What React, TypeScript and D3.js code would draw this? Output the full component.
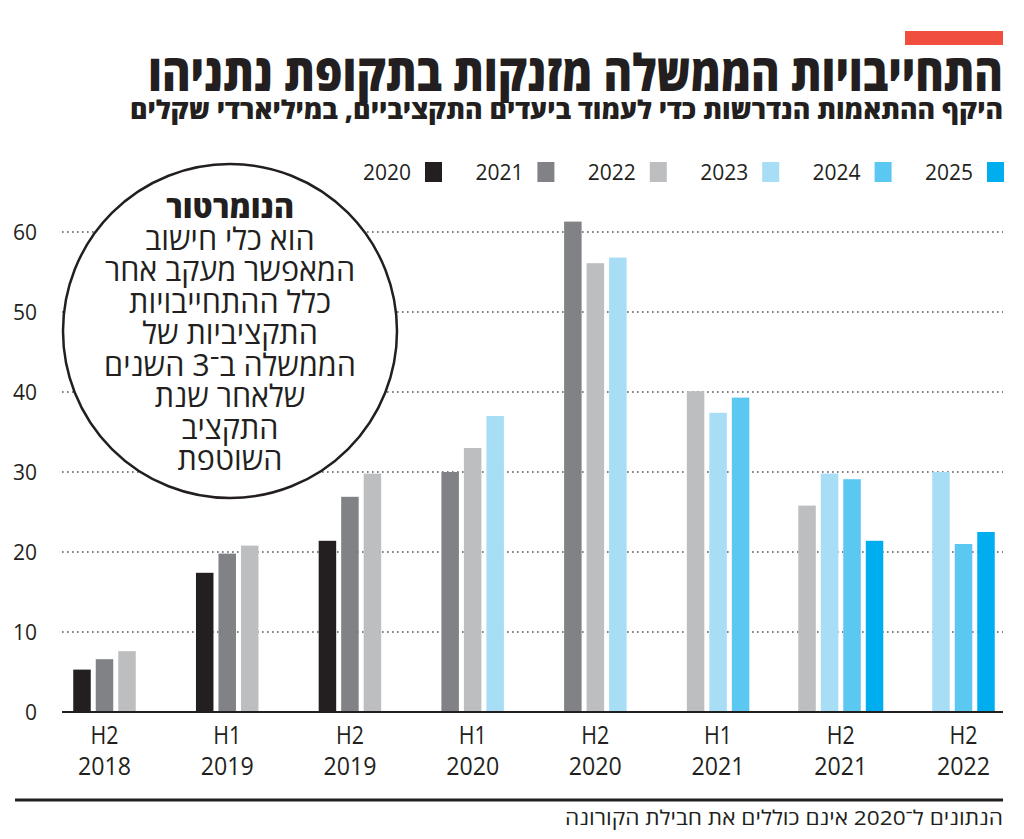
import React from "react";
import * as d3 from "d3";

const TITLE = "התחייבויות הממשלה מזנקות בתקופת נתניהו";
const SUBTITLE = "היקף ההתאמות הנדרשות כדי לעמוד ביעדים התקציביים, במיליארדי שקלים";
const FOOTNOTE = "הנתונים ל־2020 אינם כוללים את חבילת הקורונה";
const NOTE_LINES = [
  "הנומרטור",
  "הוא כלי חישוב",
  "המאפשר מעקב אחר",
  "כלל ההתחייבויות",
  "התקציביות של",
  "הממשלה ב־3 השנים",
  "שלאחר שנת",
  "התקציב",
  "השוטפת",
];

const halves = ["H2", "H1", "H2", "H1", "H2", "H1", "H2", "H2"];
const periodYears = ["2018", "2019", "2019", "2020", "2020", "2021", "2021", "2022"];
const periods = halves.map((h, i) => `${h} ${periodYears[i]}`);

const seriesNames = ["2020", "2021", "2022", "2023", "2024", "2025"];
const seriesColors = ["#231f20", "#808285", "#bcbec0", "#a8ddf6", "#5bc8f2", "#00aeef"];

const s2020: (number | null)[] = [5.3, 17.4, 21.4, null, null, null, null, null];
const s2021: (number | null)[] = [6.6, 19.8, 26.9, 30.0, 61.3, null, null, null];
const s2022: (number | null)[] = [7.6, 20.8, 29.8, 33.0, 56.1, 40.1, 25.8, null];
const s2023: (number | null)[] = [null, null, null, 37.0, 56.8, 37.4, 29.8, 30.0];
const s2024: (number | null)[] = [null, null, null, null, null, 39.3, 29.1, 21.0];
const s2025: (number | null)[] = [null, null, null, null, null, null, 21.4, 22.5];
const seriesValues = [s2020, s2021, s2022, s2023, s2024, s2025];

const yTicks = [0, 10, 20, 30, 40, 50, 60];

export default function App() {
  const W = 1024;
  const H = 839;
  const x = d3.scalePoint<string>().domain(periods).range([104.5, 963.5]);
  const y = d3.scaleLinear().domain([0, 60]).range([712, 232]);
  const barStep = 22.5;
  const barW = 17.5;

  const bars: { key: string; x: number; y: number; h: number; color: string }[] = [];
  periods.forEach((p, pi) => {
    const present = seriesValues
      .map((s, si) => ({ si, v: s[pi] }))
      .filter((d) => d.v !== null) as { si: number; v: number }[];
    const k = present.length;
    present.forEach((d, j) => {
      const cx = (x(p) as number) + (j - (k - 1) / 2) * barStep;
      bars.push({
        key: `${p}-${d.si}`,
        x: cx - barW / 2,
        y: y(d.v),
        h: y(0) - y(d.v),
        color: seriesColors[d.si],
      });
    });
  });

  const hebFont = "'Open Sans', 'DejaVu Sans', sans-serif";
  const numFont = "'Open Sans', sans-serif";

  return (
    <svg
      width={W}
      height={H}
      style={{ position: "absolute", left: 0, top: 0, background: "#fff" }}
    >
      <rect x={0} y={0} width={W} height={H} fill="#fff" />
      {/* red tag */}
      <rect x={905} y={31} width={98} height={14} fill="#f04e3f" />
      {/* title */}
      <text
        x={1003}
        y={91}
        textAnchor="end"
        fontFamily={hebFont}
        fontWeight={800}
        fontSize={51}
        fill="#231f20"
        textLength={855}
        lengthAdjust="spacingAndGlyphs"
      >
        {TITLE}
      </text>
      <text
        x={1003}
        y={119}
        textAnchor="end"
        fontFamily={hebFont}
        fontWeight={800}
        fontSize={26}
        fill="#231f20"
        textLength={873}
        lengthAdjust="spacingAndGlyphs"
      >
        {SUBTITLE}
      </text>

      {/* legend */}
      {seriesNames.map((n, i) => (
        <g key={n} transform={`translate(${363 + 112.4 * i},0)`}>
          <text x={0} y={180} fontFamily={numFont} fontSize={21} fill="#231f20">
            {n}
          </text>
          <rect x={62} y={162} width={17} height={20} fill={seriesColors[i]} />
        </g>
      ))}

      {/* gridlines */}
      {yTicks
        .filter((t) => t > 0)
        .map((t) => (
          <line
            key={t}
            x1={62}
            x2={1003}
            y1={y(t)}
            y2={y(t)}
            stroke="#555"
            strokeWidth={1.6}
            strokeDasharray="1.6 3.4"
          />
        ))}
      {/* y labels */}
      {yTicks.map((t) => (
        <text
          key={t}
          x={37}
          y={y(t)}
          dy="0.36em"
          textAnchor="end"
          fontFamily={numFont}
          fontSize={21}
          fill="#231f20"
        >
          {t}
        </text>
      ))}

      {/* bars */}
      {bars.map((b) => (
        <rect key={b.key} x={b.x} y={b.y} width={barW} height={b.h} fill={b.color} />
      ))}

      {/* baseline */}
      <line x1={62} x2={1003} y1={y(0)} y2={y(0)} stroke="#231f20" strokeWidth={2} />

      {/* x labels */}
      {periods.map((p, i) => (
        <g key={p}>
          <text
            x={x(p)}
            y={744}
            textAnchor="middle"
            fontFamily={numFont}
            fontSize={26}
            fill="#231f20"
            textLength={28}
            lengthAdjust="spacingAndGlyphs"
          >
            {halves[i]}
          </text>
          <text
            x={x(p)}
            y={775}
            textAnchor="middle"
            fontFamily={numFont}
            fontSize={26}
            fill="#231f20"
            textLength={53}
            lengthAdjust="spacingAndGlyphs"
          >
            {periodYears[i]}
          </text>
        </g>
      ))}

      {/* note circle */}
      <circle cx={230} cy={331} r={167} fill="#fff" stroke="#231f20" strokeWidth={2.5} />
      {NOTE_LINES.map((l, i) => (
        <text
          key={i}
          x={230}
          y={218 + i * 31.5}
          textAnchor="middle"
          fontFamily={hebFont}
          fontWeight={i === 0 ? 800 : 400}
          fontSize={30.5}
          fill="#231f20"
        >
          {l}
        </text>
      ))}

      {/* footer */}
      <line x1={15} x2={1003} y1={800} y2={800} stroke="#231f20" strokeWidth={3} />
      <text
        x={1003}
        y={825}
        textAnchor="end"
        fontFamily={hebFont}
        fontSize={20}
        fill="#231f20"
        textLength={438}
        lengthAdjust="spacingAndGlyphs"
      >
        {FOOTNOTE}
      </text>
    </svg>
  );
}
